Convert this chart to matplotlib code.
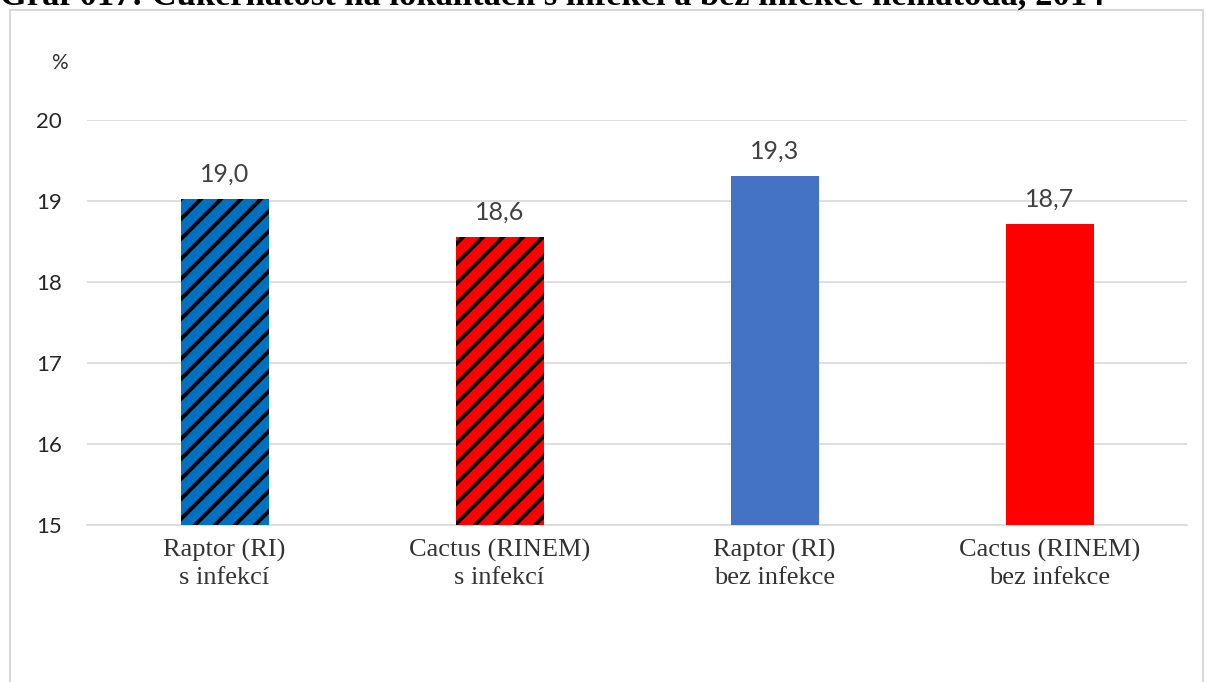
import matplotlib.pyplot as plt
import matplotlib.hatch as mhatch
from matplotlib.patches import Rectangle

# data
categories = ["Raptor (RI)\ns infekcí", "Cactus (RINEM)\ns infekcí",
              "Raptor (RI)\nbez infekce", "Cactus (RINEM)\nbez infekce"]
values = [19.03, 18.56, 19.31, 18.72]
labels = ["19,0", "18,6", "19,3", "18,7"]
colors = ["#0070C0", "#FF0000", "#4472C4", "#FF0000"]
hatches = ["/", "/", None, None]
yticks = [15, 16, 17, 18, 19, 20]

# denser diagonal hatch (10 lines per inch instead of 6)
_orig_ne = mhatch.NorthEastHatch.__init__
def _ne_init(self, hatch, density):
    _orig_ne(self, hatch, density)
    self.num_lines = hatch.count('/') * 10
    self.num_vertices = (self.num_lines + 1) * 2 if self.num_lines else 0
mhatch.NorthEastHatch.__init__ = _ne_init

plt.rcParams['hatch.linewidth'] = 2.8
plt.rcParams['hatch.color'] = 'black'

fig = plt.figure(figsize=(12.08, 6.82), dpi=100)
ax = fig.add_axes([87 / 1208, 1 - 525 / 682, 1100 / 1208, 405 / 682])

# outer chart frame
fig.patches.append(Rectangle((10 / 1208, -0.05), 1193 / 1208, 1.05 - 10 / 682,
                             transform=fig.transFigure, fill=False,
                             edgecolor='#D9D9D9', linewidth=1.5))

x = range(len(categories))
for i in x:
    ax.bar(i, values[i] - 15, bottom=15, width=0.32, color=colors[i],
           hatch=hatches[i], edgecolor='black' if hatches[i] else colors[i],
           linewidth=0, zorder=3)
    ax.text(i, values[i] + 0.16, labels[i], ha='center', va='bottom',
            fontsize=18, family='Lato', color='#404040')

ax.set_xlim(-0.5, 3.5)
ax.set_ylim(15, 20)
ax.set_yticks(yticks)
ax.set_yticklabels([str(t) for t in yticks], family='Lato', fontsize=16, color='#262626')
ax.set_xticks(list(x))
ax.set_xticklabels(categories, family='Liberation Serif', fontsize=19,
                   linespacing=1.3, color='#333333')
ax.tick_params(axis='x', length=0, pad=10)
ax.tick_params(axis='y', length=0, pad=18)
ax.grid(axis='y', color='#D9D9D9', linewidth=1.2, zorder=0)
for s in ['top', 'right', 'left']:
    ax.spines[s].set_visible(False)
ax.spines['bottom'].set_color('#D9D9D9')
ax.spines['bottom'].set_linewidth(1.2)

fig.text(59 / 1208, 1 - 63 / 682, "%", fontsize=15, family='Lato',
         ha='center', va='center', color='#333333')

# title clipped at top edge
fig.text(0.0, 1.0 - 5 / 682, "Graf 017: Cukernatost na lokalitách s infekcí a bez infekce nematoda, 2014",
         fontsize=24.8, family='Liberation Serif', weight='bold', ha='left', va='baseline')

fig.savefig("out.png", dpi=100)
